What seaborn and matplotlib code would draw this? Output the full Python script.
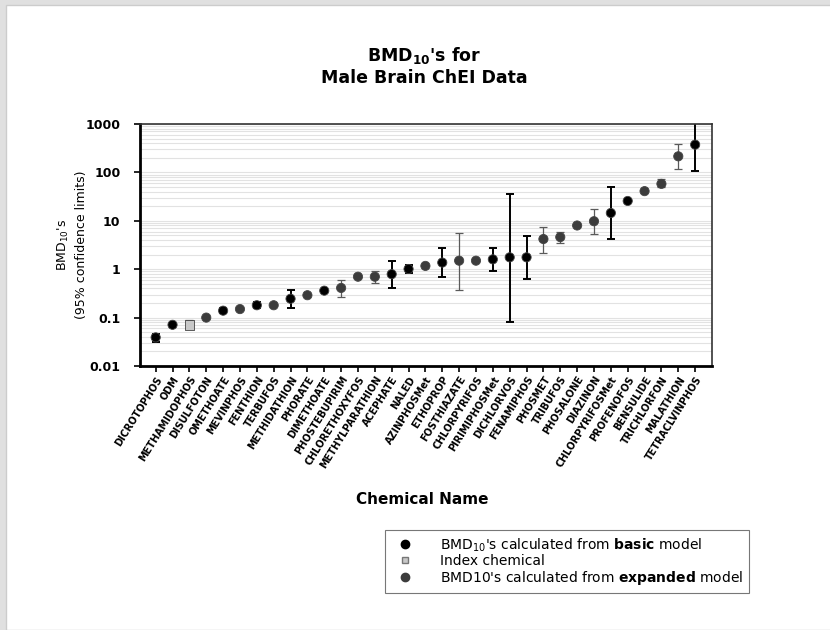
import numpy as np
import pandas as pd
import seaborn as sns
import matplotlib
matplotlib.use('Agg')
from matplotlib import pyplot as plt
from matplotlib.lines import Line2D
from matplotlib.patches import Rectangle

# Chemicals, ordered by BMD10
chemicals = ['DICROTOPHOS', 'ODM', 'METHAMIDOPHOS', 'DISULFOTON', 'OMETHOATE', 'MEVINPHOS',
             'FENTHION', 'TERBUFOS', 'METHIDATHION', 'PHORATE', 'DIMETHOATE', 'PHOSTEBUPIRIM',
             'CHLORETHOXYFOS', 'METHYLPARATHION', 'ACEPHATE', 'NALED', 'AZINPHOSMet', 'ETHOPROP',
             'FOSTHIAZATE', 'CHLORPYRIFOS', 'PIRIMIPHOSMet', 'DICHLORVOS', 'FENAMIPHOS', 'PHOSMET',
             'TRIBUFOS', 'PHOSALONE', 'DIAZINON', 'CHLORPYRIFOSMet', 'PROFENOFOS', 'BENSULIDE',
             'TRICHLORFON', 'MALATHION', 'TETRACLVINPHOS']

model = ['basic', 'basic', 'index', 'expanded', 'basic', 'expanded',
         'basic', 'expanded', 'basic', 'expanded', 'basic', 'expanded',
         'expanded', 'expanded', 'basic', 'basic', 'expanded', 'basic',
         'expanded', 'expanded', 'basic', 'basic', 'basic', 'expanded',
         'expanded', 'expanded', 'expanded', 'basic', 'basic', 'expanded',
         'expanded', 'expanded', 'basic']

bmd10 = [0.039, 0.071, 0.070, 0.10, 0.139, 0.15,
         0.18, 0.18, 0.245, 0.29, 0.36, 0.41,
         0.70, 0.70, 0.79, 1.01, 1.17, 1.37,
         1.5, 1.5, 1.6, 1.76, 1.76, 4.2,
         4.6, 8.0, 9.8, 14.5, 25.7, 41,
         58, 215, 374]

lower = [0.031, np.nan, 0.060, np.nan, 0.125, np.nan,
         0.16, np.nan, 0.16, np.nan, np.nan, 0.27,
         np.nan, 0.52, 0.41, 0.83, np.nan, 0.70,
         0.37, np.nan, 0.94, 0.081, 0.63, 2.2,
         3.5, np.nan, 5.4, 4.3, np.nan, np.nan,
         49, 118, 105]

upper = [0.046, np.nan, 0.091, np.nan, 0.16, np.nan,
         0.21, np.nan, 0.37, np.nan, np.nan, 0.60,
         np.nan, 0.94, 1.48, 1.22, np.nan, 2.7,
         5.6, np.nan, 2.74, 35, 4.8, 7.6,
         5.8, np.nan, 17.2, 49, np.nan, np.nan,
         73, 395, 1500]

df = pd.DataFrame({'chemical': chemicals, 'model': model, 'bmd': bmd10,
                   'lower': lower, 'upper': upper})
df['pos'] = np.arange(len(df))

sns.set_style('white')
plt.rcParams['font.family'] = ['DejaVu Sans']
plt.rcParams['text.color'] = 'black'
plt.rcParams['xtick.color'] = 'black'
plt.rcParams['ytick.color'] = 'black'
plt.rcParams['axes.labelcolor'] = 'black'
plt.rcParams['mathtext.fontset'] = 'custom'
plt.rcParams['mathtext.rm'] = 'DejaVu Sans'
plt.rcParams['mathtext.bf'] = 'DejaVu Sans:bold'
plt.rcParams['mathtext.it'] = 'DejaVu Sans:italic'

fig = plt.figure(figsize=(8.3, 6.3), dpi=100)
fig.patch.set_facecolor('#e0e0e0')
fig.patches.append(Rectangle((6 / 830, 0), 1, 1 - 5 / 630, transform=fig.transFigure,
                             facecolor='white', edgecolor='#cccccc', lw=1, zorder=-10))

ax = fig.add_axes([140 / 830, 1 - 366 / 630, 572 / 830, 242 / 630])
ax.set_yscale('log')
ax.set_ylim(0.01, 1000)
ax.set_xlim(-0.93, 33.0)

# light horizontal grid at every log step
ax.yaxis.grid(True, which='both', color='#e2e2e2', lw=0.8)
ax.set_axisbelow(True)

# confidence limits
err = df.dropna(subset=['lower'])
for kind, col, lw in [('basic', 'black', 1.4), ('expanded', '#5a5a5a', 0.9), ('index', '#5a5a5a', 0.9)]:
    sub = err[err['model'] == kind]
    ax.errorbar(sub['pos'], sub['bmd'],
                yerr=[sub['bmd'] - sub['lower'], sub['upper'] - sub['bmd']],
                fmt='none', ecolor=col, elinewidth=lw, capsize=3, capthick=lw, zorder=2)

palette = {'basic': 'black', 'expanded': '#3c3c3c', 'index': '#c8c8c8'}
markers = {'basic': 'o', 'expanded': 'o', 'index': 's'}
sns.scatterplot(data=df, x='pos', y='bmd', hue='model', style='model', palette=palette,
                markers=markers, s=44, edgecolor='#444444', linewidth=0.6, legend=False,
                ax=ax, zorder=3)

ax.set_xticks(df['pos'])
ax.set_xticklabels(df['chemical'], rotation=58, ha='right', rotation_mode='anchor',
                   fontsize=7, fontweight='bold')
ax.set_yticks([0.01, 0.1, 1, 10, 100, 1000])
ax.set_yticklabels(['0.01', '0.1', '1', '10', '100', '1000'], fontsize=9, fontweight='bold')
ax.yaxis.set_minor_formatter(plt.NullFormatter())
ax.tick_params(axis='x', direction='out', length=4, width=1.2, color='black', pad=2, bottom=True)
ax.tick_params(axis='y', which='major', direction='out', length=4, width=1.2, left=True, pad=10)
ax.tick_params(axis='y', which='minor', left=False)

for side in ['left', 'bottom']:
    ax.spines[side].set_linewidth(2)
    ax.spines[side].set_color('black')
for side in ['top', 'right']:
    ax.spines[side].set_linewidth(1.2)
    ax.spines[side].set_color('#333333')

ax.set_xlabel('')
ax.set_ylabel('')
fig.text(422 / 830, 1 - 500 / 630, 'Chemical Name', ha='center', va='center',
         fontsize=11, fontweight='bold')
fig.text(63 / 830, 1 - 245 / 630, r"BMD$_{10}$'s", rotation=90, ha='center', va='center', fontsize=9)
fig.text(81 / 830, 1 - 245 / 630, '(95% confidence limits)', rotation=90, ha='center', va='center',
         fontsize=9)

fig.text(424 / 830, 1 - 55 / 630, r"BMD$_{\mathbf{10}}$'s for", ha='center', va='center',
         fontsize=12.5, fontweight='bold')
fig.text(424 / 830, 1 - 78 / 630, 'Male Brain ChEI Data', ha='center', va='center',
         fontsize=12.5, fontweight='bold')

handles = [
    Line2D([], [], marker='o', ls='none', color='black', markersize=6),
    Line2D([], [], marker='s', ls='none', markerfacecolor='#c8c8c8', markeredgecolor='#777777',
           markersize=5),
    Line2D([], [], marker='o', ls='none', color='#3c3c3c', markersize=6),
]
labels = [r"BMD$_{10}$'s calculated from $\mathbf{basic}$ model",
          'Index chemical',
          r"BMD10's calculated from $\mathbf{expanded}$ model"]
leg = fig.legend(handles, labels, loc='upper left', bbox_to_anchor=(385 / 830, 1 - 530 / 630),
                 frameon=True, fancybox=False, fontsize=10, handletextpad=1.5,
                 labelspacing=0.05, borderpad=0.45, borderaxespad=0)
leg.get_frame().set_edgecolor('#555555')
leg.get_frame().set_linewidth(0.8)

fig.savefig('out.png', dpi=100, facecolor=fig.get_facecolor())
